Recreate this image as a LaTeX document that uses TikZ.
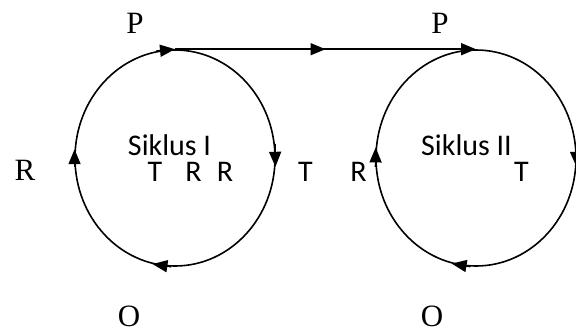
\documentclass[tikz,border=0pt]{standalone}
\usepackage{fontspec}
\setmainfont{Liberation Serif}
\newfontfamily\lblsans{Carlito}
\usetikzlibrary{arrows.meta,decorations.markings,shapes.geometric}
\begin{document}
\begin{tikzpicture}[x=1pt,y=-1pt,
  cyc/.style={draw,ellipse,minimum width=200pt,minimum height=216pt,inner sep=0pt,line width=1.6pt},
  tipline/.style={line width=1.6pt,-{Triangle[length=15pt,width=12pt]}},
  conn/.style={line width=1.6pt,-{Triangle[length=15pt,width=12pt]},
    postaction={decorate},
    decoration={markings,mark=at position 0.5 with {\arrow{Triangle[length=15pt,width=12pt]}}}},
  serlbl/.style={font=\fontsize{31}{31}\selectfont,anchor=base,inner sep=0pt},
  sanslbl/.style={font=\lblsans\fontsize{30}{30}\selectfont,anchor=base,inner sep=0pt}]
\useasboundingbox (0,0) rectangle (576,333);
\node[cyc] (c1) at (175,158) {};
\node[cyc] (c2) at (476,158) {};
% connector
\draw[conn] (c1.north) -- (c2.north);
% circle 1 arrowheads
\draw[tipline] (c1.100) -- (c1.90);
\draw[tipline] (c1.8) -- (c1.-5);
\draw[tipline] (c1.268) -- (c1.258);
\draw[tipline] (c1.185) -- (c1.175);
% circle 2 arrowheads
\draw[tipline] (c2.8) -- (c2.-5);
\draw[tipline] (c2.267) -- (c2.257);
\draw[tipline] (c2.185) -- (c2.174);
% serif labels
\node[serlbl] (p1) at (135,33) {P};
\node[serlbl] (p2) at (440,33) {P};
\node[serlbl] (r0) at (25,180) {R};
\node[serlbl] (o1) at (129,326) {O};
\node[serlbl] (o2) at (432,326) {O};
% sans labels
\node[sanslbl] (s1) at (169.5,155) {Siklus I};
\node[sanslbl] (t1) at (155,181) {T};
\node[sanslbl] (r1) at (193.5,181) {R};
\node[sanslbl] (r2) at (225,181) {R};
\node[sanslbl] (t2) at (305.5,181) {T};
\node[sanslbl] (r3) at (358.5,181) {R};
\node[sanslbl] (s2) at (466.5,155) {Siklus II};
\node[sanslbl] (t3) at (521.5,181) {T};
\end{tikzpicture}
\end{document}
